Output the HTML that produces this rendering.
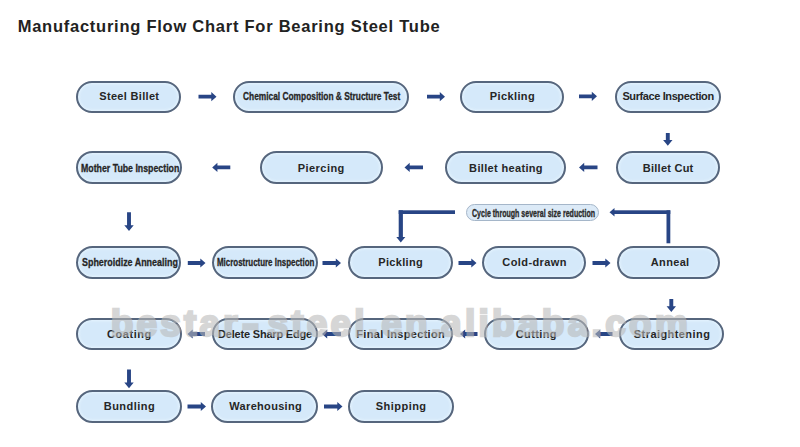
<!DOCTYPE html>
<html><head><meta charset="utf-8">
<style>
html,body{margin:0;padding:0;background:#fff;}
body{width:800px;height:447px;position:relative;overflow:hidden;font-family:"Liberation Sans",sans-serif;}
.t{position:absolute;left:17.7px;top:18.4px;line-height:1;font-size:16.5px;font-weight:bold;color:#222;white-space:nowrap;letter-spacing:0.75px;}
.p{position:absolute;box-sizing:border-box;border:2px solid #56667d;background:#d5e9fa;border-radius:17px;box-shadow:inset 0 0 3px 1px rgba(232,246,255,0.9);}
.p span{position:absolute;left:0;top:0;font-weight:bold;color:#262626;white-space:nowrap;line-height:1;transform-origin:0 0;}
svg{position:absolute;left:0;top:0;}
.wm{position:absolute;left:0;top:304.5px;width:800px;height:40px;font-size:37px;font-weight:bold;color:rgb(185,185,185);opacity:0.58;-webkit-text-stroke:2.4px rgb(185,185,185);line-height:1;white-space:nowrap;}
.cyc{position:absolute;box-sizing:border-box;border:1px solid #a5b6c9;background:#dceaf7;border-radius:9px;}
</style></head><body>

<div class="t">Manufacturing Flow Chart For Bearing Steel Tube</div>
<div class="p" style="left:76.00px;top:81.00px;width:105.00px;height:31.50px;"><span style="left:21.30px;top:7.75px;font-size:11px;letter-spacing:0.318px;">Steel Billet</span></div>
<div class="p" style="left:233.00px;top:81.00px;width:175.75px;height:31.50px;"><span style="left:8.24px;top:7.75px;font-size:11px;letter-spacing:0.000px;transform:scaleX(0.7597);-webkit-text-stroke:0.3px #262626;">Chemical Composition &amp; Structure Test</span></div>
<div class="p" style="left:459.50px;top:81.00px;width:104.20px;height:31.50px;"><span style="left:28.30px;top:7.75px;font-size:11px;letter-spacing:0.386px;">Pickling</span></div>
<div class="p" style="left:615.00px;top:81.00px;width:105.50px;height:31.50px;"><span style="left:5.40px;top:7.75px;font-size:11px;letter-spacing:-0.394px;">Surface Inspection</span></div>
<div class="p" style="left:75.70px;top:151.00px;width:106.30px;height:32.70px;"><span style="left:2.90px;top:9.55px;font-size:11px;letter-spacing:0.000px;transform:scaleX(0.7975);-webkit-text-stroke:0.3px #262626;">Mother Tube Inspection</span></div>
<div class="p" style="left:259.70px;top:151.00px;width:123.30px;height:32.70px;"><span style="left:36.10px;top:9.55px;font-size:11px;letter-spacing:0.443px;">Piercing</span></div>
<div class="p" style="left:444.60px;top:151.00px;width:121.10px;height:32.70px;"><span style="left:22.50px;top:9.55px;font-size:11px;letter-spacing:0.338px;">Billet heating</span></div>
<div class="p" style="left:615.50px;top:151.00px;width:104.50px;height:32.70px;"><span style="left:25.30px;top:9.55px;font-size:11px;letter-spacing:0.244px;">Billet Cut</span></div>
<div class="p" style="left:75.75px;top:245.50px;width:105.00px;height:33.00px;"><span style="left:4.14px;top:9.70px;font-size:11px;letter-spacing:0.000px;transform:scaleX(0.8111);-webkit-text-stroke:0.3px #262626;">Spheroidize Annealing</span></div>
<div class="p" style="left:211.60px;top:245.50px;width:106.40px;height:33.00px;"><span style="left:3.48px;top:9.70px;font-size:11px;letter-spacing:0.000px;transform:scaleX(0.7211);-webkit-text-stroke:0.3px #262626;">Microstructure Inspection</span></div>
<div class="p" style="left:347.50px;top:245.50px;width:105.00px;height:33.00px;"><span style="left:28.80px;top:9.70px;font-size:11px;letter-spacing:0.314px;">Pickling</span></div>
<div class="p" style="left:481.50px;top:245.50px;width:104.50px;height:33.00px;"><span style="left:18.80px;top:9.70px;font-size:11px;letter-spacing:0.411px;">Cold-drawn</span></div>
<div class="p" style="left:616.50px;top:245.50px;width:103.50px;height:33.00px;"><span style="left:32.30px;top:9.70px;font-size:11px;letter-spacing:0.340px;">Anneal</span></div>
<div class="p" style="left:75.75px;top:317.50px;width:106.05px;height:32.50px;"><span style="left:29.30px;top:9.45px;font-size:11px;letter-spacing:0.542px;">Coating</span></div>
<div class="p" style="left:211.60px;top:317.50px;width:106.40px;height:32.50px;"><span style="left:4.40px;top:9.45px;font-size:11px;letter-spacing:-0.187px;">Delete Sharp Edge</span></div>
<div class="p" style="left:347.50px;top:317.50px;width:105.00px;height:32.50px;"><span style="left:6.80px;top:9.45px;font-size:11px;letter-spacing:0.313px;">Final Inspection</span></div>
<div class="p" style="left:483.50px;top:317.50px;width:105.00px;height:32.50px;"><span style="left:30.30px;top:9.45px;font-size:11px;letter-spacing:0.367px;">Cutting</span></div>
<div class="p" style="left:618.50px;top:317.50px;width:105.50px;height:32.50px;"><span style="left:13.30px;top:9.45px;font-size:11px;letter-spacing:0.433px;">Straightening</span></div>
<div class="p" style="left:76.00px;top:390.00px;width:105.50px;height:32.50px;"><span style="left:25.80px;top:9.45px;font-size:11px;letter-spacing:0.457px;">Bundling</span></div>
<div class="p" style="left:211.00px;top:390.00px;width:106.50px;height:32.50px;"><span style="left:16.30px;top:9.45px;font-size:11px;letter-spacing:0.320px;">Warehousing</span></div>
<div class="p" style="left:347.50px;top:390.00px;width:106.00px;height:32.50px;"><span style="left:26.30px;top:9.45px;font-size:11px;letter-spacing:0.457px;">Shipping</span></div>
<div class="cyc" style="left:466.2px;top:203.5px;width:132.8px;height:17px;"><span style="position:absolute;left:4.40px;top:3.20px;font-size:11px;font-weight:bold;color:#2a2a2a;-webkit-text-stroke:0.35px #2a2a2a;transform:scaleX(0.6410);transform-origin:0 0;white-space:nowrap;line-height:1;letter-spacing:0.000px;">Cycle through several size reduction</span></div>
<svg width="800" height="447" viewBox="0 0 800 447"><g fill="#284585">
<polygon points="198.50,94.80 211.30,94.80 211.30,92.10 216.50,96.70 211.30,101.30 211.30,98.60 198.50,98.60"/>
<polygon points="427.00,94.80 439.80,94.80 439.80,92.10 445.00,96.70 439.80,101.30 439.80,98.60 427.00,98.60"/>
<polygon points="579.00,94.40 591.80,94.40 591.80,91.70 597.00,96.30 591.80,100.90 591.80,98.20 579.00,98.20"/>
<polygon points="230.30,165.50 217.40,165.50 217.40,162.80 212.20,167.40 217.40,172.00 217.40,169.30 230.30,169.30"/>
<polygon points="423.00,165.50 409.70,165.50 409.70,162.80 404.50,167.40 409.70,172.00 409.70,169.30 423.00,169.30"/>
<polygon points="597.50,165.50 584.20,165.50 584.20,162.80 579.00,167.40 584.20,172.00 584.20,169.30 597.50,169.30"/>
<polygon points="187.80,261.10 200.30,261.10 200.30,258.40 205.50,263.00 200.30,267.60 200.30,264.90 187.80,264.90"/>
<polygon points="322.50,261.10 335.80,261.10 335.80,258.40 341.00,263.00 335.80,267.60 335.80,264.90 322.50,264.90"/>
<polygon points="458.50,261.10 471.30,261.10 471.30,258.40 476.50,263.00 471.30,267.60 471.30,264.90 458.50,264.90"/>
<polygon points="592.50,261.10 605.30,261.10 605.30,258.40 610.50,263.00 605.30,267.60 605.30,264.90 592.50,264.90"/>
<polygon points="205.00,332.10 192.70,332.10 192.70,329.40 187.50,334.00 192.70,338.60 192.70,335.90 205.00,335.90"/>
<polygon points="341.00,332.10 327.20,332.10 327.20,329.40 322.00,334.00 327.20,338.60 327.20,335.90 341.00,335.90"/>
<polygon points="477.50,332.10 465.20,332.10 465.20,329.40 460.00,334.00 465.20,338.60 465.20,335.90 477.50,335.90"/>
<polygon points="612.50,332.10 600.20,332.10 600.20,329.40 595.00,334.00 600.20,338.60 600.20,335.90 612.50,335.90"/>
<polygon points="187.50,404.60 200.80,404.60 200.80,401.90 206.00,406.50 200.80,411.10 200.80,408.40 187.50,408.40"/>
<polygon points="324.00,404.60 337.30,404.60 337.30,401.90 342.50,406.50 337.30,411.10 337.30,408.40 324.00,408.40"/>
<polygon points="665.85,133.00 669.75,133.00 669.75,140.00 672.50,140.00 667.80,145.80 663.10,140.00 665.85,140.00"/>
<polygon points="127.05,212.30 130.95,212.30 130.95,225.20 133.70,225.20 129.00,231.00 124.30,225.20 127.05,225.20"/>
<polygon points="669.35,299.00 673.25,299.00 673.25,306.20 676.00,306.20 671.30,312.00 666.60,306.20 669.35,306.20"/>
<polygon points="127.05,369.60 130.95,369.60 130.95,382.40 133.70,382.40 129.00,388.20 124.30,382.40 127.05,382.40"/>
<rect x="666.5" y="210.3" width="3.8" height="33"/>
<rect x="614" y="210.3" width="56.3" height="3.7"/>
<polygon points="609.5,212.15 614.5,207.9 614.5,216.4"/>
<rect x="398.7" y="210.3" width="56.3" height="3.7"/>
<rect x="398.7" y="210.3" width="4.2" height="27"/>
<polygon points="396.3,237 405.3,237 400.8,242.5"/>
</g></svg>
<div class="wm"><span style="position:absolute;left:110.7px;top:0;letter-spacing:3.2px;transform:scaleX(1);transform-origin:0 0;">bestar</span><span style="position:absolute;left:241.5px;top:0;letter-spacing:0px;transform:scaleX(1.375);transform-origin:0 0;">-</span><span style="position:absolute;left:267.5px;top:0;letter-spacing:3.2px;transform:scaleX(1);transform-origin:0 0;">steel.en.</span><span style="position:absolute;left:441px;top:0;letter-spacing:3.3px;transform:scaleX(1);transform-origin:0 0;">alibaba.com</span></div>
</body></html>
